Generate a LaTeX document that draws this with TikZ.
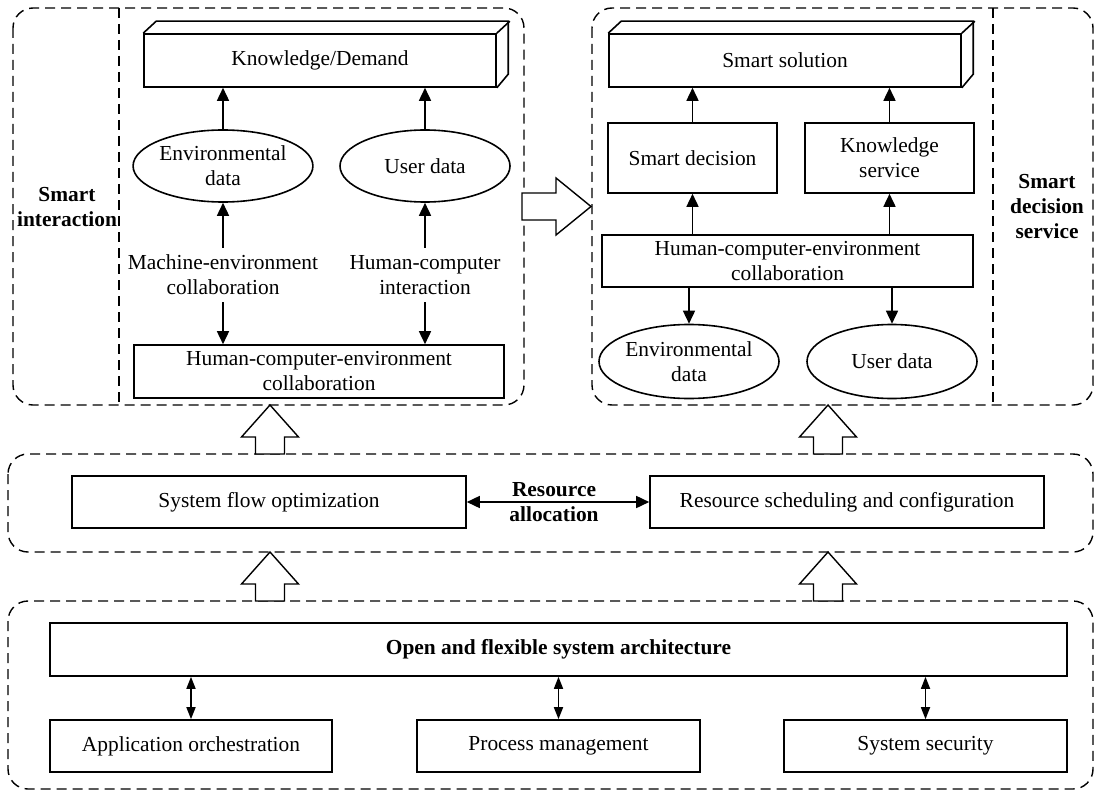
\documentclass[tikz,border=0pt]{standalone}
\usepackage{fontspec}
\setmainfont{Liberation Serif}
\usetikzlibrary{arrows.meta,shapes.geometric}
\begin{document}
\begin{tikzpicture}[x=0.5pt, y=-0.5pt, line width=0.8pt,
    >={Triangle[length=6.5pt,width=6pt]},
    every node/.style={font=\fontsize{10.7}{12.5}\selectfont, align=center},
    box/.style={draw, rectangle, inner sep=0pt},
    oval/.style={draw, ellipse, inner sep=0pt, minimum width=85pt, minimum height=36pt},
    panel/.style={dashed, dash pattern=on 5pt off 3pt, line width=0.7pt, rounded corners=10pt},
    divider/.style={dashed, dash pattern=on 5pt off 3pt, line width=0.7pt},
    hollow/.style={draw, fill=white, line width=0.7pt},
    thin arrow/.style={<->, >={Triangle[length=6pt,width=4.5pt]}}]
\useasboundingbox (0,0) rectangle (1095,791);
% panels
\draw[panel] (13,8) rectangle (524,405);
\draw[divider] (119,8) -- (119,405);
\draw[panel] (592,8) rectangle (1093,405);
\draw[divider] (993,8) -- (993,405);
\draw[panel] (8,454) rectangle (1093,552);
\draw[panel] (8,601) rectangle (1093,789);
% block arrows
\foreach \x in {270,828}
  \foreach \t/\b in {405/454,552/601}
    \draw[hollow] (\x-14.5,\b) -- (\x-14.5,\t+32) -- (\x-28.5,\t+32) -- (\x,\t)
      -- (\x+28.5,\t+32) -- (\x+14.5,\t+32) -- (\x+14.5,\b) -- cycle;
\draw[hollow] (522,193) -- (556,193) -- (556,178) -- (591,206.5) -- (556,235)
  -- (556,220) -- (522,220) -- cycle;

% smart interaction
\node at (67,207) {\textbf{Smart}\\\textbf{interaction}};
\node[box, minimum width=176pt, minimum height=26.5pt] (kd) at (320,60.5) {Knowledge/Demand};
\draw (kd.north west) -- ++(13,-12) -- ++(352,0) -- ++(0,53) -- (kd.south east);
\draw (kd.north east) -- ++(13,-12);
\node[oval] (envL) at (223,166) {Environmental\\data};
\node[oval] (userL) at (425,166) {User data};
\node (mecL) at (223,275) {Machine-environment\\collaboration};
\node (hciL) at (425,275) {Human-computer\\interaction};
\node[box, minimum width=185pt, minimum height=26.5pt] (hceL) at (319,371.5) {Human-computer-environment\\collaboration};
\draw[->] (envL.north) -- (envL.north |- kd.south);
\draw[->] (userL.north) -- (userL.north |- kd.south);
\draw[->] (mecL.north) -- (envL.south);
\draw[->] (hciL.north) -- (userL.south);
\draw[->] (mecL.south) -- (mecL.south |- hceL.north);
\draw[->] (hciL.south) -- (hciL.south |- hceL.north);

% smart decision service
\node at (1047,207) {\textbf{Smart}\\\textbf{decision}\\\textbf{service}};
\node[box, minimum width=176pt, minimum height=26.5pt] (sol) at (785,60.5) {Smart solution};
\draw (sol.north west) -- ++(13,-12) -- ++(352,0) -- ++(0,53) -- (sol.south east);
\draw (sol.north east) -- ++(13,-12);
\node[box, minimum width=84.5pt, minimum height=35pt] (dec) at (692.5,158) {Smart decision};
\node[box, minimum width=84.5pt, minimum height=35pt] (ksrv) at (889.5,158) {Knowledge\\service};
\node[box, minimum width=185.5pt, minimum height=26pt] (hceR) at (787.5,261) {Human-computer-environment\\collaboration};
\node[oval, minimum width=90pt, minimum height=37pt] (envR) at (689,361.5) {Environmental\\data};
\node[oval, minimum height=37pt] (userR) at (892,361.5) {User data};
\draw[->] (dec.north) -- (dec.north |- sol.south);
\draw[->] (ksrv.north) -- (ksrv.north |- sol.south);
\draw[->] (hceR.north -| dec) -- (dec.south);
\draw[->] (hceR.north -| ksrv) -- (ksrv.south);
\draw[->] (hceR.south -| envR) -- (envR.north);
\draw[->] (hceR.south -| userR) -- (userR.north);

% resource allocation
\node[box, minimum width=197pt, minimum height=26pt] (flow) at (269,502) {System flow optimization};
\node[box, minimum width=197pt, minimum height=26pt] (sched) at (847,502) {Resource scheduling and configuration};
\node at (554,502) {\textbf{Resource}\\\textbf{allocation}};
\draw[<->] (flow.east) -- (sched.west);

% architecture
\node[box, minimum width=508.5pt, minimum height=26.5pt] (arch) at (558.5,649.5) {\textbf{Open and flexible system architecture}};
\node[box, minimum width=141pt, minimum height=26pt] (app) at (191,746) {Application orchestration};
\node[box, minimum width=141.5pt, minimum height=26pt] (proc) at (558.5,746) {Process management};
\node[box, minimum width=141.5pt, minimum height=26pt] (sec) at (925.5,746) {System security};
\draw[thin arrow] (app.north) -- (app.north |- arch.south);
\draw[thin arrow] (proc.north) -- (proc.north |- arch.south);
\draw[thin arrow] (sec.north) -- (sec.north |- arch.south);
\end{tikzpicture}
\end{document}
